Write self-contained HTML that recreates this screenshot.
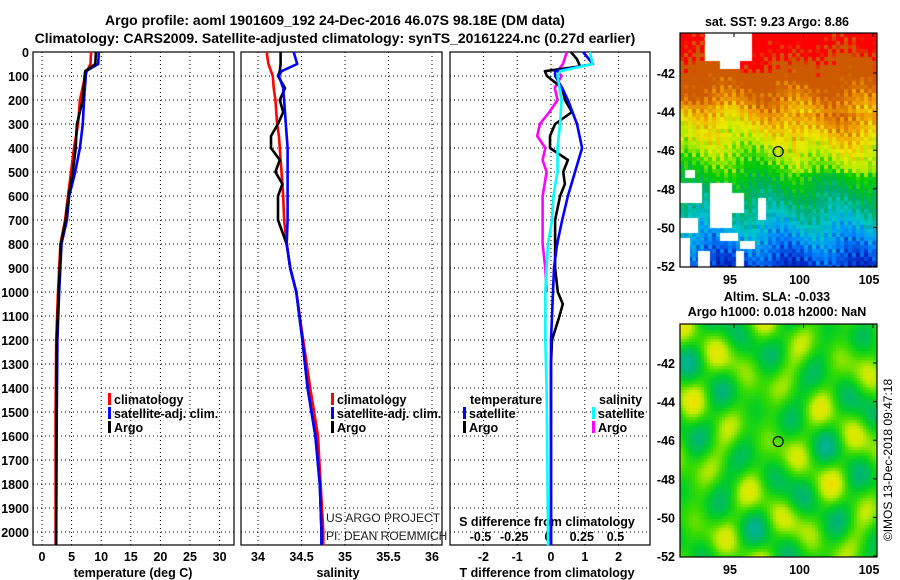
<!DOCTYPE html>
<html><head><meta charset="utf-8">
<style>
body{margin:0;background:#fff;}
#wrap{position:relative;width:900px;height:580px;overflow:hidden;background:#fff;}
svg text{font-family:"Liberation Sans",sans-serif;}
canvas{position:absolute;}
</style></head>
<body>
<div id="wrap">
<canvas id="sst" width="197" height="234" style="left:680px;top:33px"></canvas>
<canvas id="sla" width="197" height="233" style="left:680px;top:324px"></canvas>
<svg id="svg" width="900" height="580" style="position:absolute;left:0;top:0" xmlns="http://www.w3.org/2000/svg">
<text x="335" y="25" text-anchor="middle" font-size="14" font-weight="bold">Argo profile: aoml 1901609_192 24-Dec-2016 46.07S 98.18E (DM data)</text>
<text x="335" y="43" text-anchor="middle" font-size="14" font-weight="bold">Climatology: CARS2009. Satellite-adjusted climatology: synTS_20161224.nc (0.27d earlier)</text>
<text x="777" y="26" text-anchor="middle" font-size="12.5" font-weight="bold">sat. SST: 9.23 Argo: 8.86</text>
<text x="777" y="301" text-anchor="middle" font-size="12.5" font-weight="bold">Altim. SLA: -0.033</text>
<text x="777" y="316" text-anchor="middle" font-size="12.5" font-weight="bold">Argo h1000: 0.018 h2000: NaN</text>
<text transform="translate(892,460) rotate(-90)" text-anchor="middle" font-size="12">©IMOS 13-Dec-2018 09:47:18</text>
<text x="326" y="522" font-size="12" fill="#222">US ARGO PROJECT</text>
<text x="326" y="540" font-size="12" fill="#222">PI: DEAN ROEMMICH</text>
</svg>
</div>
<script>
// ---------- profile data ----------
const tDepth=[0,50,80,100,200,300,400,500,600,700,800,1000,1200,1500,2000,2055];
const tClim=[8.3,8.2,7.6,7.3,6.4,6.1,5.4,4.9,4.4,3.9,3.1,2.7,2.4,2.3,2.3,2.3];
const tSat=[9.6,9.5,7.4,7.4,7.1,6.9,6.4,5.6,4.6,4.2,3.3,2.9,2.6,2.5,2.4,2.4];
const tArgo=[9.1,9.0,7.3,7.2,6.9,5.9,5.7,5.2,4.5,4.0,3.2,2.8,2.5,2.4,2.4,2.4];

const sDepth=[0,50,80,100,150,200,250,300,350,400,450,500,550,600,700,800,900,1000,1200,1400,1600,1800,2000,2055];
const sClim=[34.10,34.12,34.15,34.17,34.18,34.20,34.21,34.22,34.24,34.25,34.26,34.27,34.28,34.29,34.30,34.33,34.37,34.44,34.52,34.60,34.69,34.72,34.75,34.75];
const sSat=[34.41,34.45,34.27,34.24,34.29,34.30,34.31,34.32,34.33,34.34,34.34,34.34,34.34,34.34,34.34,34.33,34.37,34.44,34.51,34.57,34.66,34.71,34.73,34.73];
const sArgo=[34.26,34.26,34.25,34.23,34.31,34.25,34.29,34.23,34.15,34.15,34.25,34.20,34.28,34.23,34.23,34.33,34.37,34.44,34.51,34.57,34.66,34.71,34.73,34.73];

const dTDepth=[0,50,80,100,150,200,300,400,500,600,700,800,900,1000,1100,1200,2000,2055];
const dTSat=[0.95,1.24,0.12,0.12,0.33,0.5,0.77,0.92,0.71,0.5,0.33,0.18,0.09,0.06,0.03,0.0,0.0,0.0];
const dTArgoDepth=[0,30,60,80,100,150,200,250,300,350,400,450,500,550,600,700,800,900,1000,1050,1100,1200,1300,2000,2055];
const dTArgo=[0.59,0.77,0.86,-0.18,-0.12,0.33,0.41,0.62,0.12,-0.03,-0.03,0.5,0.36,0.41,0.27,0.12,0.12,0.12,0.2,0.35,0.25,0.03,0.0,0.0,0.0];
const dSDepth=[0,50,80,100,200,300,400,500,600,700,800,900,1000,1200,1400,2000,2055];
const dSSat=[0.31,0.33,0.09,0.07,0.10,0.09,0.07,0.07,0.04,0.03,0.0,-0.01,-0.02,-0.02,-0.01,0.0,0.0];
const dSArgoDepth=[0,50,80,100,150,200,250,300,350,400,450,500,600,700,800,900,1000];
const dSArgo=[0.14,0.11,0.07,0.10,0.05,0.07,0.01,-0.06,-0.08,-0.02,-0.04,-0.01,-0.04,-0.04,-0.04,-0.02,-0.01];

const depthTicks=[0,100,200,300,400,500,600,700,800,900,1000,1100,1200,1300,1400,1500,1600,1700,1800,1900,2000];
const tTicks=[0,5,10,15,20,25,30];
const sTicks=[34,34.5,35,35.5,36];
const sTickLabels=["34","34.5","35","35.5","36"];
const dTTicks=[-2,-1,0,1,2];
const dSTicks=[-0.5,-0.25,0,0.25,0.5];
const dSTickLabels=["-0.5","-0.25","0","0.25","0.5"];
const latTicks=[-42,-44,-46,-48,-50,-52];
const lonTicks=[95,100,105];

// ---------- axes ----------
const yD=d=>52+d*0.24;
const xT=t=>42+t*5.92;
const xS=s=>258+(s-34)*87;
const xDT=d=>551+d*33.8;
const xDS=d=>548+d*135;

const NS="http://www.w3.org/2000/svg";
const svg=document.getElementById('svg');
function el(tag,attrs,parent){const e=document.createElementNS(NS,tag);for(const k in attrs)e.setAttribute(k,attrs[k]);(parent||svg).appendChild(e);return e;}
function txt(x,y,s,size,anchor,bold,name){const e=el('text',{x:x,y:y,'font-size':size,'text-anchor':anchor});if(bold)e.setAttribute('font-weight','bold');e.textContent=s;


return e;}

const panels=[{x0:33,x1:234,name:'temperature-panel'},{x0:241,x1:442,name:'salinity-panel'},{x0:450,x1:650,name:'difference-panel'}];
const Y0=52,Y1=545;
panels.forEach((p,i)=>{
  const g=el('g',{});
  
  
  depthTicks.forEach(d=>{const l=el('line',{x1:p.x0,x2:p.x1,y1:yD(d),y2:yD(d),stroke:'#000','stroke-width':1,'stroke-dasharray':'1,3'},g);
    
    });
  let xs=i==0?tTicks.map(xT):i==1?sTicks.map(xS):dTTicks.map(xDT);
  xs.forEach(x=>{const l=el('line',{x1:x,x2:x,y1:Y0,y2:Y1,stroke:'#000','stroke-width':1,'stroke-dasharray':'1,3'},g);
    
    });
  const r=el('rect',{x:p.x0,y:Y0,width:p.x1-p.x0,height:Y1-Y0,fill:'none',stroke:'#000','stroke-width':1.2},g);
  
  
});
depthTicks.forEach(d=>txt(29,yD(d)+5,String(d),12.5,'end',true,'y-tick-label'));
tTicks.forEach(t=>txt(xT(t),561,String(t),12.5,'middle',true,'temperature-tick-label'));
sTicks.forEach((s,i)=>txt(xS(s),561,sTickLabels[i],12.5,'middle',true,'salinity-tick-label'));
dTTicks.forEach(t=>txt(xDT(t),561,String(t),12.5,'middle',true,'t-difference-tick-label'));
dSTicks.forEach((s,i)=>txt(xDS(s),541,dSTickLabels[i],12.5,'middle',true,'s-difference-tick-label'));
txt(547,526,'S difference from climatology',12.5,'middle',true,'s-difference-axis-title');
txt(133,577,'temperature (deg C)',12.5,'middle',true,'temperature-axis-title');
txt(338,577,'salinity',12.5,'middle',true,'salinity-axis-title');
txt(547,577,'T difference from climatology',12.5,'middle',true,'t-difference-axis-title');

function line(depths,vals,xf,color,name,w){
  let d='';depths.forEach((dd,i)=>{d+=(i?'L':'M')+xf(vals[i]).toFixed(1)+','+yD(dd).toFixed(1);});
  const p=el('path',{d:d,fill:'none',stroke:color,'stroke-width':w||2.6,'stroke-linejoin':'round'});
  
  
}
line(tDepth,tClim,xT,'#ff0000','temperature-climatology-line');
line(tDepth,tSat,xT,'#0000ff','temperature-satellite-line');
line(tDepth,tArgo,xT,'#000000','temperature-argo-line');
line(sDepth,sClim,xS,'#ff0000','salinity-climatology-line');
line(sDepth,sArgo,xS,'#000000','salinity-argo-line');
line(sDepth,sSat,xS,'#0000ff','salinity-satellite-line');
line(dSArgoDepth,dSArgo,xDS,'#ff00ff','s-diff-argo-line');
line(dTArgoDepth,dTArgo,xDT,'#000000','t-diff-argo-line');
line(dTDepth,dTSat,xDT,'#0000ff','t-diff-satellite-line');
line(dSDepth,dSSat,xDS,'#00ffff','s-diff-satellite-line');

function legend(x,y,color,label,name){
  const r=el('rect',{x:x,y:y-6,width:3,height:12,fill:color});
  
  
  txt(x+6,y+5,label,12.5,'start',true,name);
}
legend(108,399,'#ff0000','climatology','legend-t-climatology');
legend(108,413,'#0000ff','satellite-adj. clim.','legend-t-satellite');
legend(108,427,'#000000','Argo','legend-t-argo');
legend(331,399,'#ff0000','climatology','legend-s-climatology');
legend(331,413,'#0000ff','satellite-adj. clim.','legend-s-satellite');
legend(331,427,'#000000','Argo','legend-s-argo');
txt(470,404,'temperature',12.5,'start',true,'legend-temperature-header');
txt(599,404,'salinity',12.5,'start',true,'legend-salinity-header');
legend(463,413,'#0000ff','satellite','legend-dt-satellite');
legend(463,427,'#000000','Argo','legend-dt-argo');
legend(592,413,'#00ffff','satellite','legend-ds-satellite');
legend(592,427,'#ff00ff','Argo','legend-ds-argo');

// ---------- maps ----------
const maps=[{top:33,h:234,lat42:73,name:'sst'},{top:324,h:233,lat42:363,name:'sla'}];
const lonX=l=>734+(l-95)*13.9;
maps.forEach(m=>{
  const latY=l=>m.lat42+(-42-l)*19.3;
  const r=el('rect',{x:680,y:m.top,width:197,height:m.h,fill:'none',stroke:'#000','stroke-width':1.2});
  
  
  latTicks.forEach(l=>{txt(675,latY(l)+5,String(l),12.5,'end',true,m.name+'-lat-label');
    const tk=el('line',{x1:873,x2:877,y1:latY(l),y2:latY(l),stroke:'#000'});
    
    });
  lonTicks.forEach(l=>{txt(lonX(l)-4,m.top+m.h+17,String(l),12.5,'middle',true,m.name+'-lon-label');
    const tk=el('line',{x1:lonX(l),x2:lonX(l),y1:m.top,y2:m.top+4,stroke:'#000'});
    
    });
  const c=el('circle',{cx:lonX(98.18),cy:latY(-46.07),r:5,fill:'none',stroke:'#000','stroke-width':1.2});
  
  
});

function interp(stops,v){v=Math.max(0,Math.min(1,v));for(let i=1;i<stops.length;i++){if(v<=stops[i][0]){const a=stops[i-1],b=stops[i],f=(v-a[0])/(b[0]-a[0]);return [0,1,2].map(k=>Math.round(a[1][k]+(b[1][k]-a[1][k])*f));}}return stops[stops.length-1][1];}
const jet=[[0,[0,0,110]],[0.12,[0,40,200]],[0.22,[0,140,255]],[0.3,[0,200,200]],[0.38,[0,170,110]],[0.48,[0,205,0]],[0.56,[170,235,0]],[0.62,[235,235,0]],[0.7,[240,160,0]],[0.78,[205,90,0]],[0.9,[205,90,0]],[0.93,[255,0,0]],[1,[255,0,0]]];
(function(){
  const ctx=document.getElementById('sst').getContext('2d');
  const cs=4;
  for(let y=0;y<234;y+=cs)for(let x=0;x<197;x+=cs){
    const lat=-42-(y+33-73)/19.3, lon=95+(x+680-734)/13.9;
    let v=0.55+(lat+46)*0.07+0.035*Math.sin(lon*1.3+lat*0.7)+0.03*Math.sin(x*0.9+y*1.7)+0.03*Math.cos(x*2.3-y*0.6);
    if(lat<-44&&lat>-47&&lon>99) v+=0.05;
    if(lat>-45&&lat<-43.5&&lon<95) v-=0.03;
    if(lat>-42&&lon>94&&lon<99) v+=0.05;
    const c=interp(jet,v);ctx.fillStyle='rgb('+c+')';ctx.fillRect(x,y,cs,cs);
  }
  ctx.fillStyle='#fff';
  [[25,0,47,28],[40,28,20,8],[50,0,15,12],[5,137,10,8],[0,150,22,20],[30,150,22,45],[52,160,12,20],[0,185,18,15],[0,205,10,30],[18,218,12,18],[40,200,18,8],[60,208,15,8],[56,218,8,16],[78,165,8,22]].forEach(r=>ctx.fillRect(...r));
})();
const sla=[[0,[0,185,200]],[0.25,[0,180,120]],[0.45,[0,205,40]],[0.6,[60,220,0]],[0.78,[200,235,0]],[0.9,[235,230,0]],[1,[245,175,0]]];
(function(){
  const ctx=document.getElementById('sla').getContext('2d');
  const cs=3;
  for(let y=0;y<233;y+=cs)for(let x=0;x<197;x+=cs){
    let v=0.55+0.16*Math.sin(x*0.09+1)*Math.cos(y*0.075+0.5)+0.13*Math.sin(x*0.06-y*0.1+2)+0.1*Math.cos(x*0.15+y*0.055);
    const c=interp(sla,v);ctx.fillStyle='rgb('+c+')';ctx.fillRect(x,y,cs,cs);
  }
})();
</script>
</body></html>
